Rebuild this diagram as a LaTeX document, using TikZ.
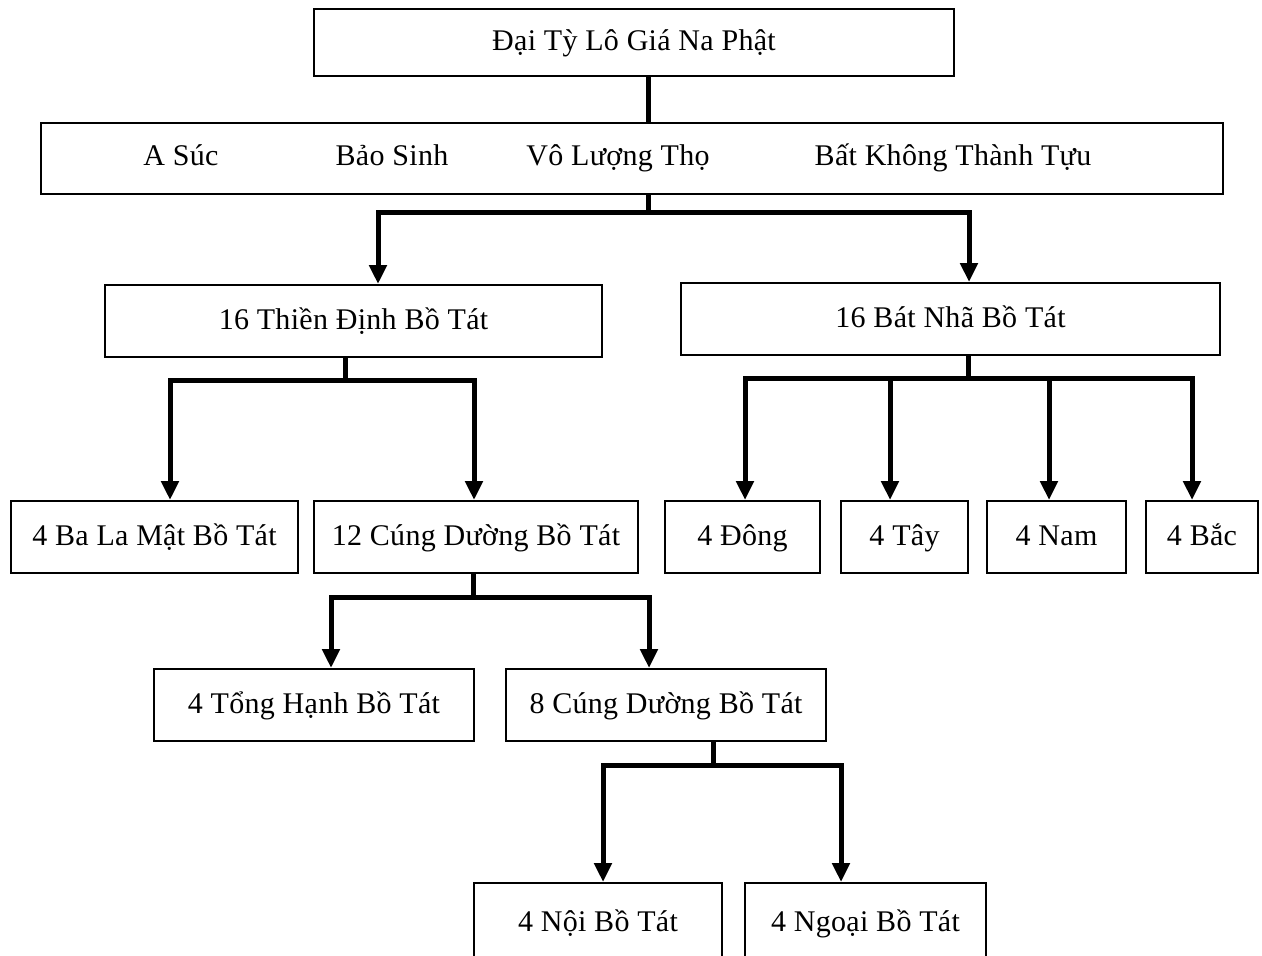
\documentclass[tikz,border=0pt]{standalone}
\usepackage{fontspec}
\setmainfont[LetterSpace=1]{Liberation Serif}
\usetikzlibrary{arrows.meta}

\begin{document}
\begin{tikzpicture}[x=1pt,y=-1pt,
    every node/.style={font=\fontsize{30}{36}\selectfont,text height=20pt,text depth=4pt},
    box/.style={draw,line width=2pt,anchor=north west,inner sep=0pt,minimum height=72pt},
    conn/.style={line width=5pt},
    arr/.style={line width=5pt,-{Triangle[width=17pt,length=19pt]}}]
  \useasboundingbox (0,0) rectangle (1262,956);
  % top row
  \node[box,minimum width=640pt,minimum height=67pt] (top) at (313,8) {Đại Tỳ Lô Giá Na Phật};
  \node[box,minimum width=1182pt,minimum height=71pt] (ngu) at (40,122) {};
  \node (asuc) at (181,157) {A Súc};
  \node (baosinh) at (392,157) {Bảo Sinh};
  \node (voluong) at (618,157) {Vô Lượng Thọ};
  \node (batkhong) at (953,157) {Bất Không Thành Tựu};
  % second level
  \node[box,minimum width=497pt] (thien) at (104,284) {16 Thiền Định Bồ Tát};
  \node[box,minimum width=539pt] (batnha) at (680,282) {16 Bát Nhã Bồ Tát};
  % third level
  \node[box,minimum width=287pt] (balamat) at (10,500) {4 Ba La Mật Bồ Tát};
  \node[box,minimum width=324pt] (cung12) at (313,500) {12 Cúng Dường Bồ Tát};
  \node[box,minimum width=155pt] (dong) at (664,500) {4 Đông};
  \node[box,minimum width=127pt] (tay) at (840,500) {4 Tây};
  \node[box,minimum width=139pt] (nam) at (986,500) {4 Nam};
  \node[box,minimum width=112pt] (bac) at (1145,500) {4 Bắc};
  % fourth level
  \node[box,minimum width=320pt] (tonghanh) at (153,668) {4 Tổng Hạnh Bồ Tát};
  \node[box,minimum width=320pt] (cung8) at (505,668) {8 Cúng Dường Bồ Tát};
  % bottom (cut by the page edge)
  \node[box,minimum width=248pt,minimum height=80pt] (noi) at (473,882) {4 Nội Bồ Tát};
  \node[box,minimum width=241pt,minimum height=80pt] (ngoai) at (744,882) {4 Ngoại Bồ Tát};

  % connectors
  \coordinate (s0) at (648,0);
  \draw[conn] (top.south -| s0) -- (ngu.north -| s0);
  \coordinate (f1) at (648,212);
  \draw[conn] (ngu.south -| f1) -- (f1);
  \draw[arr] (f1) -| ([xshift=24.5]thien.north);
  \draw[arr] (f1) -| ([xshift=18.5]batnha.north);
  \coordinate (f2) at (345,380);
  \draw[conn] (thien.south -| f2) -- (f2);
  \draw[arr] (f2) -| ([xshift=15.5]balamat.north);
  \draw[arr] (f2) -| ([xshift=-2]cung12.north);
  \coordinate (f3) at (968,378);
  \draw[conn] (batnha.south -| f3) -- (f3);
  \draw[arr] (f3) -| ([xshift=2.5]dong.north);
  \draw[arr] (f3) -| ([xshift=-14.5]tay.north);
  \draw[arr] (f3) -| ([xshift=-7.5]nam.north);
  \draw[arr] (f3) -| ([xshift=-10]bac.north);
  \coordinate (f4) at (473,597);
  \draw[conn] (cung12.south -| f4) -- (f4);
  \draw[arr] (f4) -| ([xshift=17]tonghanh.north);
  \draw[arr] (f4) -| ([xshift=-17]cung8.north);
  \coordinate (f5) at (713,765);
  \draw[conn] (cung8.south -| f5) -- (f5);
  \draw[arr] (f5) -| ([xshift=5]noi.north);
  \draw[arr] (f5) -| ([xshift=-24.5]ngoai.north);
\end{tikzpicture}
\end{document}
